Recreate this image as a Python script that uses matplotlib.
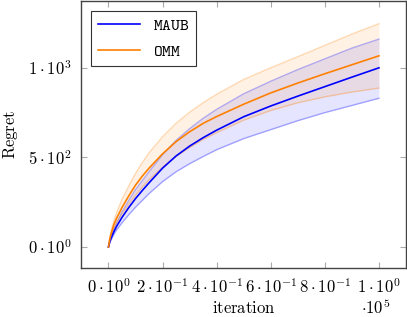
import matplotlib
matplotlib.use("Agg")
import matplotlib.pyplot as plt

plt.rcParams['mathtext.fontset'] = 'cm'
plt.rcParams['font.family'] = 'DejaVu Serif'

# iterations
iters = [0, 500, 1000, 2000, 3000, 5000, 7500, 10000, 12500, 15000, 20000,
         25000, 30000, 35000, 40000, 50000, 60000, 70000, 80000, 90000, 100000]

maub_mean = [0, 30, 50, 85, 115, 165, 220, 270, 315, 358, 440,
             508, 563, 610, 652, 727, 787, 842, 895, 948, 1000]
maub_up = [0, 35, 60, 100, 135, 195, 260, 320, 370, 420, 515,
           595, 660, 718, 768, 855, 925, 990, 1050, 1110, 1160]
maub_lo = [0, 25, 40, 70, 95, 135, 180, 222, 260, 298, 365,
           420, 465, 505, 543, 605, 655, 705, 750, 790, 830]

omm_mean = [0, 45, 75, 125, 160, 220, 285, 345, 395, 440, 520,
            588, 643, 690, 728, 797, 860, 915, 967, 1017, 1067]
omm_up = [0, 55, 90, 145, 190, 265, 340, 410, 470, 525, 615,
          690, 752, 805, 852, 935, 1000, 1062, 1125, 1188, 1246]
omm_lo = [0, 38, 62, 105, 135, 185, 240, 290, 335, 375, 445,
          505, 555, 600, 638, 708, 762, 805, 838, 865, 887]

xticks = [0, 20000, 40000, 60000, 80000, 100000]
xticklabels = [r'$0\cdot10^{0}$', r'$2\cdot10^{-1}$', r'$4\cdot10^{-1}$',
               r'$6\cdot10^{-1}$', r'$8\cdot10^{-1}$', r'$1\cdot10^{0}$']
yticks = [0, 500, 1000]
yticklabels = [r'$0\cdot10^{0}$', r'$5\cdot10^{2}$', r'$1\cdot10^{3}$']

blue = (0, 0, 1)
orange = (1, 0.5, 0)

fig = plt.figure(figsize=(4.07, 3.17), dpi=100)
ax = fig.add_axes([0.2, 0.153, 0.7975, 0.845])

ax.fill_between(iters, maub_lo, maub_up, color=blue, alpha=0.1, lw=0)
ax.plot(iters, maub_up, color=blue, alpha=0.3, lw=1)
ax.plot(iters, maub_lo, color=blue, alpha=0.3, lw=1)
ax.fill_between(iters, omm_lo, omm_up, color=orange, alpha=0.1, lw=0)
ax.plot(iters, omm_up, color=orange, alpha=0.3, lw=1)
ax.plot(iters, omm_lo, color=orange, alpha=0.3, lw=1)

ax.plot(iters, maub_mean, color=blue, lw=1.2, label=r'$\mathtt{MAUB}$')
ax.plot(iters, omm_mean, color=orange, lw=1.2, label=r'$\mathtt{OMM}$')

ax.set_xlim(-10000, 110000)
ax.set_ylim(-120, 1375)
ax.set_xticks(xticks)
ax.set_xticklabels(xticklabels, fontsize=12)
ax.set_yticks(yticks)
ax.set_yticklabels(yticklabels, fontsize=12)
ax.tick_params(direction='in', length=4, color='#aaaaaa', top=True, right=True, pad=7)
for s in ax.spines.values():
    s.set_color('#444444')
    s.set_linewidth(1)

ax.set_xlabel(r'$\mathrm{iteration}$', fontsize=12, labelpad=2)
ax.set_ylabel(r'$\mathrm{Regret}$', fontsize=12, labelpad=6)
ax.text(0.905, -0.148, r'$\cdot10^{5}$', transform=ax.transAxes, fontsize=12, ha='center', va='center')

leg = ax.legend(loc='upper left', fontsize=12, fancybox=False, edgecolor='#333333',
                framealpha=1, borderaxespad=0.6, handlelength=2.5)
leg.get_frame().set_linewidth(0.8)

fig.savefig('out.png', dpi=100)
